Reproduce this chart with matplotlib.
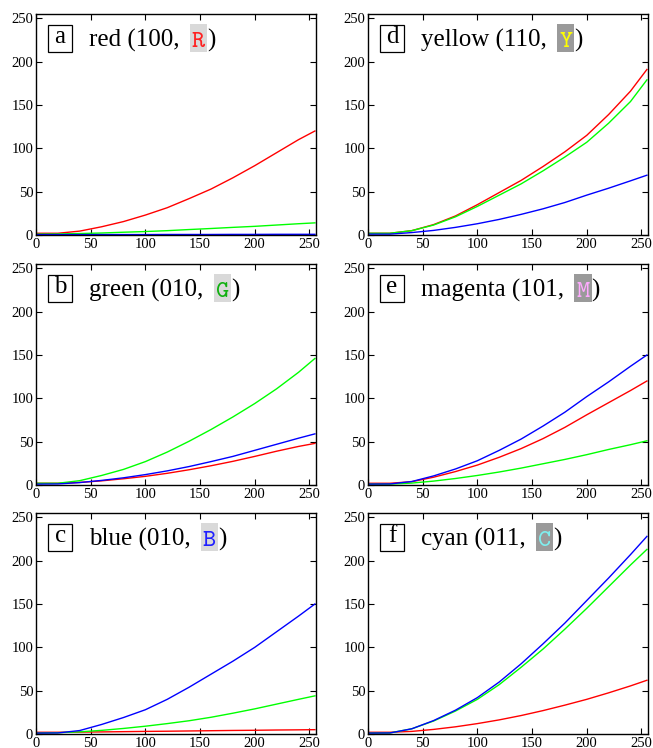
import matplotlib
matplotlib.use("Agg")
import matplotlib.pyplot as plt
from matplotlib.patches import Rectangle

# sample positions (input level 0..255) and mean response
X = [0, 20, 40, 60, 80, 100, 120, 140, 160, 180, 200, 220, 240, 255]

# a: red patch
A_RED   = [2, 2, 4.5, 9.5, 15.5, 23, 31.5, 42, 53, 66, 80, 95, 110, 120]
A_GREEN = [1, 1.2, 1.7, 2.3, 3.2, 4, 5, 6.3, 7.5, 8.8, 10, 11.5, 13, 14]
A_BLUE  = [0.5, 0.5, 0.5, 0.5, 0.5, 0.5, 0.6, 0.6, 0.6, 0.7, 0.7, 0.8, 0.8, 0.8]
# b: green patch
B_RED   = [2, 2, 3, 4.8, 7.2, 10, 13.5, 17.6, 22.2, 27.3, 33, 39, 44.5, 48]
B_GREEN = [2, 2, 5, 11, 18, 27, 38, 50.5, 64, 78.5, 94, 111, 130, 146]
B_BLUE  = [1, 1.2, 2.8, 5.3, 8.3, 12, 16.3, 21.3, 27, 33, 40, 47, 54, 59]
# c: blue patch
C_RED   = [2, 2, 2.2, 2.4, 2.7, 3, 3.2, 3.5, 3.8, 4.1, 4.3, 4.6, 4.8, 5]
C_GREEN = [1, 1.5, 2.5, 4.2, 6.4, 9, 12, 15.3, 19.3, 24, 29, 34.5, 40, 44]
C_BLUE  = [1, 1.2, 4, 11, 19, 28, 40, 54, 69, 84, 100, 118, 136, 150]
# d: yellow patch
D_RED   = [2, 2, 5, 12, 22, 35, 49, 63, 79, 96, 115, 139, 166, 191]
D_GREEN = [2, 2, 5, 11.5, 21, 33, 46, 59, 74, 90, 107, 129, 154, 179]
D_BLUE  = [1, 1, 2.8, 5.3, 8.8, 13, 18, 23.8, 30.2, 37.5, 46, 54, 62.5, 69]
# e: magenta patch
E_RED   = [2, 2, 3.8, 9, 15.5, 23, 32, 42, 53.5, 66.5, 81, 95, 109, 120]
E_GREEN = [1, 1, 2.2, 4.5, 7.5, 11, 15, 19.5, 24.5, 29.5, 35, 41, 46.5, 51]
E_BLUE  = [1, 1.2, 4, 10.5, 18.5, 28, 40, 53, 68, 84, 102, 119, 137, 150]
# f: cyan patch
F_RED   = [2, 2, 3, 5.3, 8.3, 12, 16.3, 21.3, 27, 33.3, 40, 47.5, 55.5, 62]
F_GREEN = [1, 1.2, 6, 15, 26.5, 40, 57, 77, 98, 121, 145, 170, 195, 213]
F_BLUE  = [1, 1.2, 6, 15.5, 27.5, 42, 60, 81, 104, 128, 154, 180, 207, 228]

LETTERS = ["a", "b", "c", "d", "e", "f"]
NAMES   = ["red", "green", "blue", "yellow", "magenta", "cyan"]
CODES   = ["100", "010", "010", "110", "101", "011"]
SYMBOLS = ["R", "G", "B", "Y", "M", "C"]
SYM_COL = ["#ff2020", "#10b010", "#2020ff", "#ffff00", "#ffaaff", "#7fefef"]
SYM_BG  = ["#d9d9d9", "#d9d9d9", "#d9d9d9", "#9a9a9a", "#9a9a9a", "#9a9a9a"]
CURVES  = [(A_RED, A_GREEN, A_BLUE), (B_RED, B_GREEN, B_BLUE), (C_RED, C_GREEN, C_BLUE),
           (D_RED, D_GREEN, D_BLUE), (E_RED, E_GREEN, E_BLUE), (F_RED, F_GREEN, F_BLUE)]

SERIF = "Liberation Serif"
MONO  = "cmtt10"
FS    = 18

plt.rcParams.update({
    "font.family": SERIF,
    "xtick.direction": "in",
    "ytick.direction": "in",
    "xtick.top": True,
    "ytick.right": True,
    "xtick.major.size": 4,
    "ytick.major.size": 4,
    "xtick.labelsize": 10.5,
    "ytick.labelsize": 10.5,
    "axes.linewidth": 1.0,
})

W, H = 653, 748
fig = plt.figure(figsize=(W / 100, H / 100), dpi=100)

col_left = [36, 368]
row_top  = [14, 264, 513]
ax_w, ax_h = 280, 221

axes = []
for i in range(6):
    col, row = divmod(i, 3)
    l = col_left[col] / W
    b = 1 - (row_top[row] + ax_h) / H
    ax = fig.add_axes([l, b, ax_w / W, ax_h / H])
    r, g, bl = CURVES[i]
    ax.plot(X, r, color="#ff0000", lw=1.0)
    ax.plot(X, g, color="#00ff00", lw=1.0)
    ax.plot(X, bl, color="#0000ff", lw=1.0)
    ax.set_xlim(0, 256)
    ax.set_ylim(0, 255)
    ax.set_xticks([0, 50, 100, 150, 200, 250])
    ax.set_yticks([0, 50, 100, 150, 200, 250])
    ax.tick_params(pad=2)

    # boxed panel letter
    ax.add_patch(Rectangle((0.043, 0.828), 0.086, 0.122, transform=ax.transAxes,
                           fill=False, ec="black", lw=0.9))
    ax.text(0.086, 0.867, LETTERS[i], transform=ax.transAxes, fontsize=FS,
            ha="center", va="baseline")
    axes.append(ax)

fig.canvas.draw()
rend = fig.canvas.get_renderer()

for i, ax in enumerate(axes):
    inv = ax.transAxes.inverted()
    t1 = ax.text(0.19, 0.852, f"{NAMES[i]} ({CODES[i]},", transform=ax.transAxes,
                 fontsize=FS, va="baseline")
    bb = t1.get_window_extent(rend)
    x2 = inv.transform((bb.x1 + 12, 0))[0]
    t2 = ax.text(x2, 0.852, SYMBOLS[i], transform=ax.transAxes, fontsize=FS,
                 family=MONO, color=SYM_COL[i], va="baseline", zorder=4)
    bb2 = t2.get_window_extent(rend)
    bx0 = inv.transform((bb2.x0 - 2, 0))[0]
    bx1 = inv.transform((bb2.x1 + 2, 0))[0]
    ax.add_patch(Rectangle((bx0, 0.826), bx1 - bx0, 0.131, transform=ax.transAxes,
                           fc=SYM_BG[i], ec="none", zorder=3))
    x3 = inv.transform((bb2.x1 + 2, 0))[0]
    ax.text(x3, 0.852, ")", transform=ax.transAxes, fontsize=FS, va="baseline")

fig.savefig("out.png", dpi=100)
